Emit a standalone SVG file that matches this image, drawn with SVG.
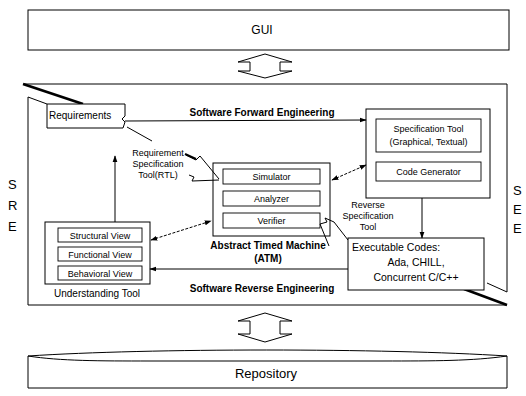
<svg xmlns="http://www.w3.org/2000/svg" width="526" height="396" viewBox="0 0 526 396">
<defs>
<style>
text{font-family:"Liberation Sans",Arial,sans-serif;fill:#000}
.box{fill:#fff;stroke:#000;stroke-width:1}
.ibox{fill:#fff;stroke:#000;stroke-width:0.9}
.ln{fill:none;stroke:#000;stroke-width:1}
.thk{fill:none;stroke:#000;stroke-width:2.6}
.dash{fill:none;stroke:#000;stroke-width:1;stroke-dasharray:3 1.5}
.s9{font-size:9px}
.s10{font-size:10px}
.b{font-weight:bold}
.c{text-anchor:middle}
</style>
<marker id="ah" viewBox="0 0 10 10" refX="9" refY="5" markerWidth="7" markerHeight="7" orient="auto-start-reverse" markerUnits="userSpaceOnUse">
<path d="M0,1.5 L10,5 L0,8.5 Z" fill="#000"/>
</marker>
</defs>
<rect width="526" height="396" fill="#fff"/>

<g id="gui">
<rect class="box" x="28" y="10" width="481" height="40"/>
<text x="262" y="34" font-size="12" class="c">GUI</text>
</g>

<g id="arrow-top">
<polygon class="box" points="265,54 292,62 280,62 280,71 292,71 265,78 238,71 250,71 250,62 238,62"/>
</g>

<g id="frame">
<path class="ln" d="M24,84 L507,84 L507,292 L487,283"/>
<path class="ln" d="M47,104 L28,97 L28,305 L507,305"/>
<path class="thk" d="M23,84 L83,104"/>
<path class="thk" d="M464,289 L507,305"/>
<text x="8" y="189" font-size="13">S</text>
<text x="8" y="210" font-size="13">R</text>
<text x="8" y="231" font-size="13">E</text>
<text x="513" y="195" font-size="13">S</text>
<text x="513" y="214" font-size="13">E</text>
<text x="513" y="233" font-size="13">E</text>
</g>

<g id="requirements">
<path class="box" d="M47,104 L125,104 L125,116 L122,119 L125,122 L123,128 L47,128 Z"/>
<text x="49" y="119" class="s10">Requirements</text>
</g>

<g id="spec-group">
<rect class="box" x="366" y="109" width="124" height="89"/>
<rect class="ibox" x="376" y="119" width="105" height="33"/>
<text x="428.5" y="132" class="s9 c">Specification Tool</text>
<text x="428.5" y="145" class="s9 c">(Graphical, Textual)</text>
<rect class="ibox" x="376" y="162" width="105" height="19"/>
<text x="428.5" y="175" class="s9 c">Code Generator</text>
</g>

<g id="atm">
<rect class="box" x="213" y="163" width="117" height="73"/>
<rect class="ibox" x="223" y="169" width="97" height="15"/>
<text x="271.5" y="180" class="s9 c">Simulator</text>
<rect class="ibox" x="223" y="191" width="97" height="15"/>
<text x="271.5" y="202" class="s9 c">Analyzer</text>
<rect class="ibox" x="223" y="213" width="97" height="15"/>
<text x="271.5" y="224" class="s9 c">Verifier</text>
<text x="268" y="249" class="s10 b c">Abstract Timed Machine</text>
<text x="268" y="262" class="s10 b c">(ATM)</text>
</g>

<g id="understanding">
<rect class="box" x="45" y="222" width="105" height="62"/>
<rect class="ibox" x="58" y="228" width="84" height="14"/>
<text x="100" y="238.5" class="s9 c">Structural View</text>
<rect class="ibox" x="58" y="247" width="84" height="14"/>
<text x="100" y="257.5" class="s9 c">Functional View</text>
<rect class="ibox" x="58" y="266" width="84" height="14"/>
<text x="100" y="276.5" class="s9 c">Behavioral View</text>
<text x="97" y="297" class="s10 c">Understanding Tool</text>
</g>

<g id="executable">
<rect class="box" x="348" y="238" width="136" height="52"/>
<text x="352" y="251" font-size="10.5">Executable Codes:</text>
<text x="416" y="266" font-size="10.5" class="c">Ada, CHILL,</text>
<text x="416" y="281" font-size="10.5" class="c">Concurrent C/C++</text>
</g>

<g id="req-spec-tool">
<text x="158" y="156" class="s9 c">Requirement</text>
<text x="158" y="167" class="s9 c">Specification</text>
<text x="158" y="178" class="s9 c">Tool(RTL)</text>
<path class="ln" d="M186,155 L196,160 M196,160 L200,156 L219,179 M189,175 L194,177 L192,181 L219,180"/>
<path fill="none" stroke="#000" stroke-width="2" d="M185,154 L196,159"/>
</g>

<g id="rev-spec-tool">
<text x="368" y="208" class="s9 c">Reverse</text>
<text x="368" y="219" class="s9 c">Specification</text>
<text x="368" y="230" class="s9 c">Tool</text>
<path class="ln" d="M329,246 L320,224 L327,222 L325,218 L334,222 L348,240"/>
</g>

<g id="connectors">
<line class="ln" x1="125" y1="121" x2="366" y2="120" marker-end="url(#ah)"/>
<text x="262" y="116" class="s10 b c">Software Forward Engineering</text>
<line class="ln" x1="127" y1="127" x2="152" y2="141"/>
<line class="dash" x1="332" y1="180" x2="366" y2="165" marker-start="url(#ah)" marker-end="url(#ah)"/>
<line class="ln" x1="422" y1="198" x2="422" y2="238" marker-end="url(#ah)"/>
<line class="ln" x1="115" y1="222" x2="115" y2="156" marker-end="url(#ah)"/>
<line class="dash" x1="151" y1="240" x2="211" y2="221" marker-start="url(#ah)" marker-end="url(#ah)"/>
<line class="ln" x1="348" y1="269" x2="150" y2="269" marker-end="url(#ah)"/>
<text x="262" y="292" class="s10 b c">Software Reverse Engineering</text>
</g>

<g id="arrow-bottom">
<polygon class="box" points="265,313 292,321 280,321 280,334 292,334 265,342 238,334 250,334 250,321 238,321"/>
</g>

<g id="repository">
<path class="box" d="M28,356 C150,348 383,348 507,356 L507,388 L28,388 Z"/>
<path class="ln" d="M28,356 C60,361 100,361 150,361 L383,361 C433,361 473,361 507,356"/>
<text x="266" y="378" font-size="13" class="c">Repository</text>
</g>
</svg>
